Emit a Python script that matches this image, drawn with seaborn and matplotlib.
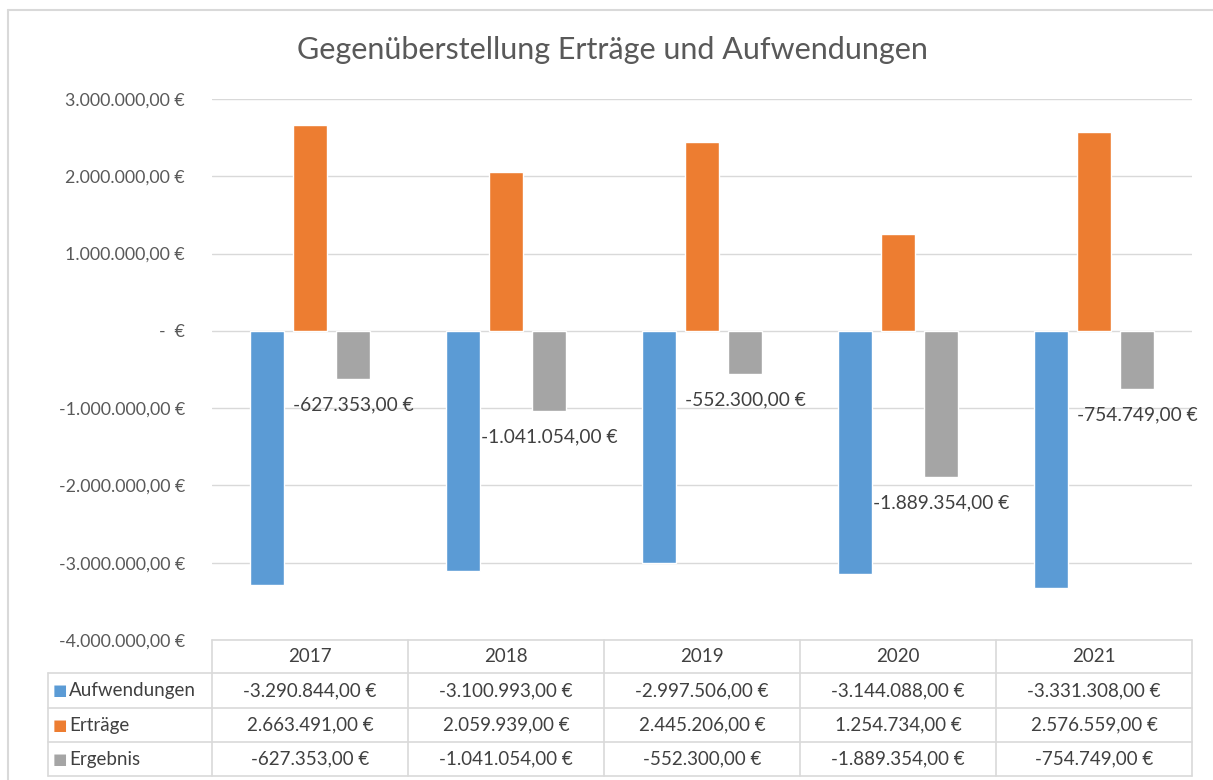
import matplotlib
matplotlib.use("Agg")
import matplotlib.pyplot as plt
import matplotlib.transforms as mtransforms
from matplotlib.lines import Line2D
import seaborn as sns
import pandas as pd
import numpy as np

# ---- data ----
years = ["2017", "2018", "2019", "2020", "2021"]
series_names = ["Aufwendungen", "Erträge", "Ergebnis"]
aufwendungen = [-3290844, -3100993, -2997506, -3144088, -3331308]
ertraege = [2663491, 2059939, 2445206, 1254734, 2576559]
ergebnis = [-627353, -1041054, -552300, -1889354, -754749]
colors = ["#5B9BD5", "#ED7D31", "#A5A5A5"]
yticks = [-4000000, -3000000, -2000000, -1000000, 0, 1000000, 2000000, 3000000]
title = "Gegenüberstellung Erträge und Aufwendungen"

values = [aufwendungen, ertraege, ergebnis]
df = pd.DataFrame({
    "Jahr": np.repeat([years], 3, axis=0).ravel(),
    "Serie": np.repeat(series_names, len(years)),
    "Wert": np.concatenate(values),
})


def euro(v):
    if v == 0:
        return "-  €"
    s = f"{v:,.2f}"
    s = s.replace(",", "X").replace(".", ",").replace("X", ".")
    return s + " €"


sns.set_theme(style="white")
plt.rcParams["font.family"] = ["Lato", "DejaVu Sans"]

W, H = 1213, 780
fig = plt.figure(figsize=(W / 100, H / 100), dpi=100)
left_px, right_px, top_px, bot_px = 212, 1192, 99, 640
ax = fig.add_axes([left_px / W, 1 - bot_px / H, (right_px - left_px) / W, (bot_px - top_px) / H])

sns.barplot(data=df, x="Jahr", y="Wert", hue="Serie", order=years, hue_order=series_names,
            palette=colors, width=0.66, gap=0.2, ax=ax, legend=False, saturation=1,
            errorbar=None, zorder=3)

ax.set_xlim(-0.5, len(years) - 0.5)
ax.set_ylim(yticks[0], yticks[-1])
ax.set_yticks(yticks)
ax.set_yticklabels([euro(v) for v in yticks], fontsize=12.8, color="#595959")
ax.tick_params(axis="y", length=0, pad=19.5)
ax.set_xticks([])
ax.set_xlabel("")
ax.set_ylabel("")
for sp in ax.spines.values():
    sp.set_visible(False)
ax.grid(axis="y", color="#d9d9d9", linewidth=1.0, zorder=0)
ax.set_axisbelow(True)

# data labels for Ergebnis
ax.bar_label(ax.containers[2], labels=[euro(v) for v in ergebnis], padding=12.5,
             fontsize=13.8, color="#404040")

# title
fig.text(612 / W, 1 - 50 / H, title, ha="center", va="center", fontsize=22, color="#595959")

# ---- data table ----
trans = mtransforms.blended_transform_factory(ax.transData, ax.transAxes)
ah = bot_px - top_px
px2ax = lambda p: -(p - bot_px) / ah  # pixel y -> axes fraction
row_edges = [640, 673, 708, 742, 776]
ry = [px2ax(p) for p in row_edges]
lab_left = -0.5 - (left_px - 48) / 196.0
lc = "#d9d9d9"

def hline(x0, x1, y):
    ax.add_line(Line2D([x0, x1], [y, y], transform=trans, color=lc, lw=1.2, clip_on=False))

def vline(x, y0, y1):
    ax.add_line(Line2D([x, x], [y0, y1], transform=trans, color=lc, lw=1.2, clip_on=False))

n = len(years)
hline(-0.5, n - 0.5, ry[0])
for y in ry[1:]:
    hline(lab_left, n - 0.5, y)
for i in range(n + 1):
    vline(-0.5 + i, ry[0], ry[-1])
vline(lab_left, ry[1], ry[-1])

fs_tab = 13.5
for i, yr in enumerate(years):
    ax.text(i, (ry[0] + ry[1]) / 2, yr, transform=trans, ha="center", va="center",
            fontsize=fs_tab, color="#404040", clip_on=False)
for r, (name, vals, col) in enumerate(zip(series_names, values, colors)):
    yc = (ry[r + 1] + ry[r + 2]) / 2
    ax.text(lab_left + 5 / 196.0, yc, "■", transform=trans, ha="left", va="center",
            fontsize=11, color=col, family=["DejaVu Sans"], clip_on=False)
    ax.text(lab_left + 21 / 196.0, yc, name, transform=trans, ha="left", va="center",
            fontsize=fs_tab, color="#404040", clip_on=False)
    for i, v in enumerate(vals):
        ax.text(i, yc, euro(v), transform=trans, ha="center", va="center",
                fontsize=fs_tab, color="#404040", clip_on=False)

# chart frame (partially visible)
fx = 8 / W
fy = 1 - 10 / H
fig.add_artist(Line2D([fx, fx], [0, fy], transform=fig.transFigure, color="#d9d9d9", lw=1.5))
fig.add_artist(Line2D([fx, 1], [fy, fy], transform=fig.transFigure, color="#d9d9d9", lw=1.5))

fig.savefig("out.png", dpi=100, facecolor="white")
